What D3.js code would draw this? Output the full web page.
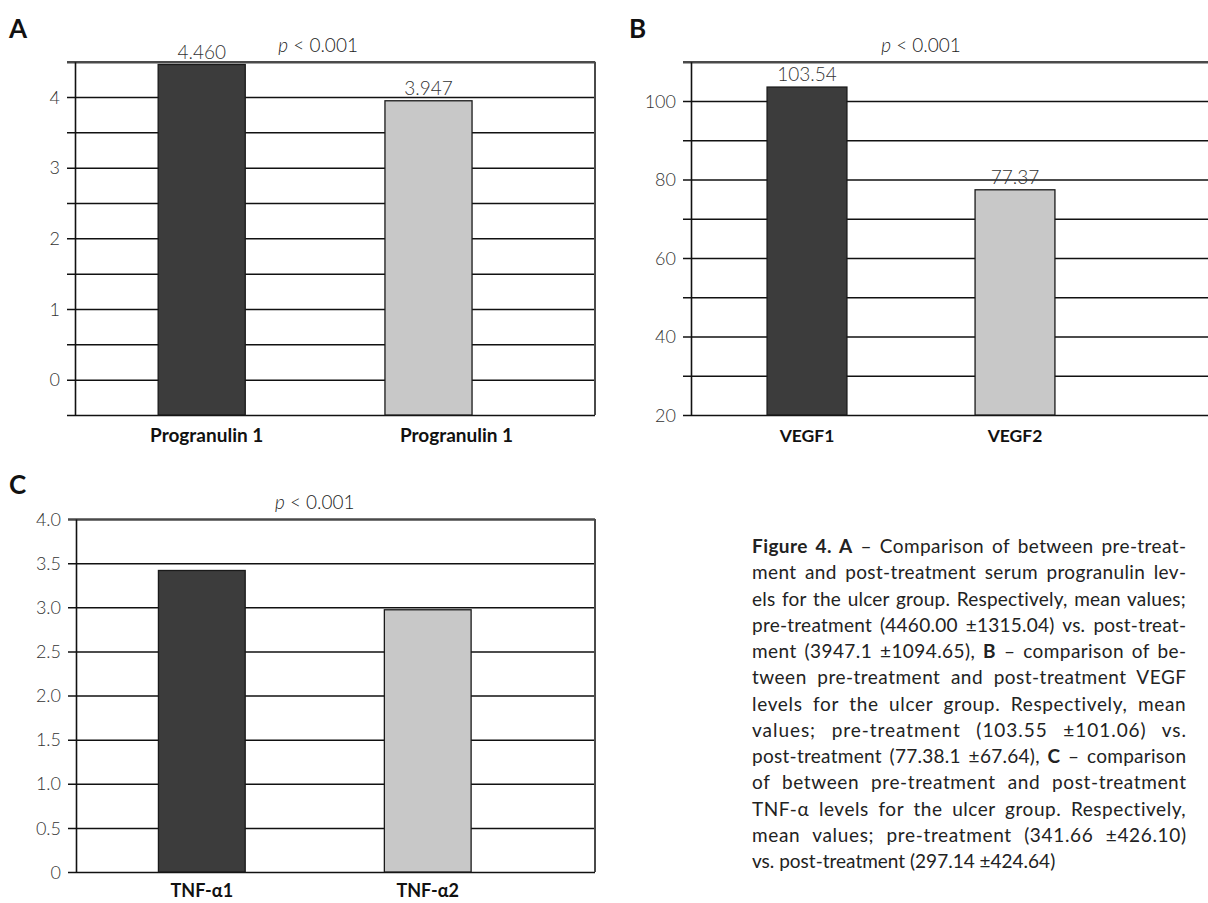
<!DOCTYPE html>
<html>
<head>
<meta charset="utf-8">
<script src="https://cdn.jsdelivr.net/npm/d3@7/dist/d3.min.js"></script>
<style>
  html, body { margin: 0; padding: 0; background: #fff; }
  svg { display: block; }
  .tick-label text { font-family: Lato, "Open Sans", sans-serif; font-weight: 300; font-size: 18px; fill: #333; }
</style>
</head>
<body>
<svg id="fig" width="1208" height="903"></svg>
<script>
// ---- data ----
const progranulinCategories = ["Progranulin 1", "Progranulin 1"];
const progranulinMeans = [4.460, 3.947];          // ×1000 pg/ml
const progranulinGrid = [-0.5, 0, 0.5, 1, 1.5, 2, 2.5, 3, 3.5, 4, 4.5];
const progranulinTicks = [0, 1, 2, 3, 4];

const vegfCategories = ["VEGF1", "VEGF2"];
const vegfMeans = [103.54, 77.37];
const vegfGrid = [20, 30, 40, 50, 60, 70, 80, 90, 100, 110];
const vegfTicks = [20, 40, 60, 80, 100];

const tnfCategories = ["TNF-α1", "TNF-α2"];
const tnfMeans = [3.4166, 2.9714];                // ×100 (341.66, 297.14)
const tnfGrid = [0, 0.5, 1, 1.5, 2, 2.5, 3, 3.5, 4];
const tnfTicks = [0, 0.5, 1, 1.5, 2, 2.5, 3, 3.5, 4];

const pValueText = "< 0.001";
const barFills = ["#3c3c3c", "#c8c8c8"];

const captionLines = [
  [["Figure 4. A", true], [" – Comparison of between pre-treat-", false]],
  [["ment and post-treatment serum progranulin lev-", false]],
  [["els for the ulcer group. Respectively, mean values;", false]],
  [["pre-treatment (4460.00 ±1315.04) vs. post-treat-", false]],
  [["ment (3947.1 ±1094.65), ", false], ["B", true], [" – comparison of be-", false]],
  [["tween pre-treatment and post-treatment VEGF", false]],
  [["levels for the ulcer group. Respectively, mean", false]],
  [["values; pre-treatment (103.55 ±101.06) vs.", false]],
  [["post-treatment (77.38.1 ±67.64), ", false], ["C", true], [" – comparison", false]],
  [["of between pre-treatment and post-treatment", false]],
  [["TNF-α levels for the ulcer group. Respectively,", false]],
  [["mean values; pre-treatment (341.66 ±426.10)", false]],
  [["vs. post-treatment (297.14 ±424.64)", false]]
];

// ---- panel layout ----
const panels = [
  { letter: "A", cats: progranulinCategories, vals: progranulinMeans, grid: progranulinGrid, ticks: progranulinTicks,
    domain: [-0.5, 4.5], x0: 75, x1: 595, top: 61.7, bottom: 415, band: [88.3, 541.9],
    tickFmt: d3.format("d"), valueFmt: d3.format(".3f"), labelDx: [5, 28], pDx: 3,
    letterPos: [9, 38], catY: 442, catSize: 19 },
  { letter: "B", cats: vegfCategories, vals: vegfMeans, grid: vegfGrid, ticks: vegfTicks,
    domain: [20, 110], x0: 691, x1: 1215, top: 61.7, bottom: 415, band: [703, 1119],
    tickFmt: d3.format("d"), valueFmt: d3.format(".2f"), labelDx: [0, 0], pDx: 10,
    letterPos: [629, 38], catY: 442, catSize: 17.5 },
  { letter: "C", cats: tnfCategories, vals: tnfMeans, grid: tnfGrid, ticks: tnfTicks,
    domain: [0, 4], x0: 76, x1: 595, top: 519, bottom: 872, band: [88.85, 540.7],
    tickFmt: d => d === 0 ? "0" : d3.format(".1f")(d), valueFmt: null, labelDx: [0, 0], pDx: 0,
    letterPos: [9, 494], catY: 897, catSize: 18 }
];

const svg = d3.select("#fig");
const sans = "Lato, 'Open Sans', sans-serif";

panels.forEach(p => {
  const g = svg.append("g");
  const y = d3.scaleLinear().domain(p.domain).range([p.bottom, p.top]);
  const x = d3.scaleBand().domain([0, 1]).range(p.band).paddingInner(0.616).paddingOuter(0.308);

  // horizontal grid with short ticks past the value axis
  const gridAxis = d3.axisLeft(y).tickValues(p.grid).tickSize(p.x1 - p.x0 + 8).tickFormat("");
  const gg = g.append("g").attr("transform", `translate(${p.x1},0)`).call(gridAxis);
  gg.select(".domain").remove();
  gg.selectAll(".tick line")
    .attr("stroke", d => d === p.domain[1] ? "#4a4a4a" : "#111")
    .attr("stroke-width", d => d === p.domain[1] ? 2.4 : 1.5);

  // right border
  g.append("line").attr("x1", p.x1).attr("x2", p.x1).attr("y1", y(p.domain[0])).attr("y2", y(p.domain[1]))
    .attr("stroke", "#4a4a4a").attr("stroke-width", 2);

  // bars
  g.selectAll("rect.bar").data(p.vals).join("rect")
    .attr("class", "bar")
    .attr("x", (d, i) => x(i))
    .attr("width", x.bandwidth())
    .attr("y", d => y(d))
    .attr("height", d => y(p.domain[0]) - y(d))
    .attr("fill", (d, i) => barFills[i])
    .attr("stroke", "#1a1a1a").attr("stroke-width", 1.3);

  // value axis with labels
  const labAxis = d3.axisLeft(y).tickValues(p.ticks).tickSize(0).tickSizeOuter(0).tickPadding(15).tickFormat(p.tickFmt);
  const la = g.append("g").attr("class", "tick-label").attr("transform", `translate(${p.x0},0)`).call(labAxis);
  la.select(".domain").attr("stroke", "#111").attr("stroke-width", 1.6);
  la.selectAll("text").attr("font-family", null).attr("font-size", null).attr("dy", "0.34em");

  // value labels
  if (p.valueFmt) {
    g.selectAll("text.val").data(p.vals).join("text")
      .attr("class", "val")
      .attr("x", (d, i) => x(i) + x.bandwidth() / 2)
      .attr("y", d => y(d) - 6)
      .attr("text-anchor", "middle")
      .attr("font-family", sans).attr("font-weight", 300)
      .attr("font-size", 19).attr("fill", "#333")
      .text(d => p.valueFmt(d));
  }

  // category labels
  g.selectAll("text.cat").data(p.cats).join("text")
    .attr("class", "cat")
    .attr("x", (d, i) => x(i) + x.bandwidth() / 2 + p.labelDx[i])
    .attr("y", p.catY)
    .attr("text-anchor", "middle")
    .attr("font-family", sans).attr("font-weight", 700)
    .attr("font-size", p.catSize).attr("fill", "#111")
    .text(d => d);

  // significance note
  const mid = (x(0) + x(1) + x.bandwidth()) / 2 + p.pDx;
  const pt = g.append("text")
    .attr("x", mid).attr("y", p.top - 10)
    .attr("text-anchor", "middle")
    .attr("font-family", sans).attr("font-weight", 300)
    .attr("font-size", 19).attr("fill", "#222");
  pt.append("tspan").attr("font-style", "italic").text("p");
  pt.append("tspan").text(" " + pValueText);

  // panel letter
  g.append("text").attr("x", p.letterPos[0]).attr("y", p.letterPos[1])
    .attr("font-family", sans).attr("font-weight", 700)
    .attr("font-size", 26).attr("fill", "#111").text(p.letter);
});

// ---- caption, justified with a mix of tracking and word gaps ----
const capX = 752, capW = 434, capY0 = 553, capLead = 26.25;
captionLines.forEach((line, i) => {
  const t = svg.append("text")
    .attr("x", capX).attr("y", capY0 + i * capLead)
    .attr("font-family", sans)
    .attr("font-size", 19).attr("fill", "#222");
  line.forEach(([s, bold]) => {
    t.append("tspan").attr("font-weight", bold ? 700 : 400).text(s);
  });
  const natural = t.node().getComputedTextLength();
  const str = line.map(d => d[0]).join("");
  if (natural > capW) {
    t.attr("textLength", capW).attr("lengthAdjust", "spacingAndGlyphs");
  } else if (i < captionLines.length - 1) {
    const extra = capW - natural;
    const gaps = str.split(" ").length - 1;
    const chars = str.length - 1;
    t.attr("letter-spacing", (extra * 0.5) / chars);
    if (gaps > 0) t.attr("word-spacing", (extra * 0.5) / gaps);
  }
});
</script>
</body>
</html>
